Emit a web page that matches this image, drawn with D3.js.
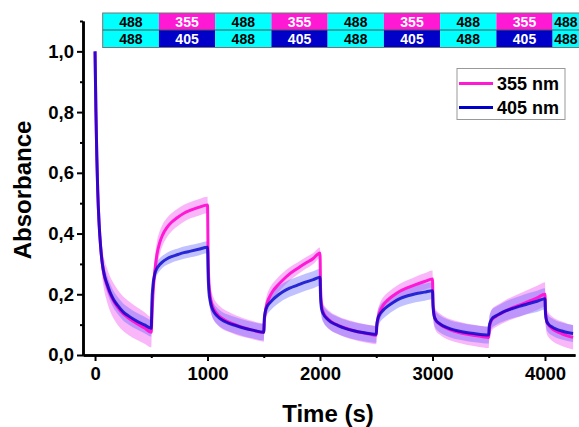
<!DOCTYPE html>
<html>
<head>
<meta charset="utf-8">
<script src="https://cdn.jsdelivr.net/npm/d3@7"></script>
<style>
  body { margin: 0; background: #fff; }
  svg { display: block; font-family: Arial, "Liberation Sans", sans-serif; }
</style>
</head>
<body>
<svg id="chart" width="579" height="427"></svg>
<script>
// time points (s), shared by both wavelengths
const time = [
  0, 8, 16, 24, 35, 50, 65, 85, 105, 130, 165, 200, 250, 300, 370, 440, 500,
  505, 515, 530, 550, 575, 600, 640, 680, 730, 790, 850, 920, 1000,
  1005, 1012, 1025, 1040, 1060, 1090, 1130, 1180, 1250, 1320, 1400, 1500,
  1505, 1515, 1530, 1550, 1580, 1620, 1670, 1730, 1800, 1870, 1940, 2000,
  2005, 2015, 2030, 2060, 2100, 2160, 2230, 2300, 2380, 2450, 2500,
  2505, 2515, 2530, 2560, 2600, 2650, 2710, 2780, 2850, 2930, 3000,
  3005, 3015, 3030, 3060, 3100, 3160, 3230, 3300, 3380, 3450, 3500,
  3505, 3515, 3530, 3560, 3600, 3650, 3710, 3780, 3850, 3930, 4000,
  4005, 4015, 4030, 4060, 4100, 4150, 4200, 4250
]

// 355 nm mean absorbance and std
const abs355 = [
  1.0, 0.80, 0.65, 0.54, 0.44, 0.355, 0.30, 0.258, 0.232, 0.205, 0.178, 0.158, 0.136, 0.121, 0.104, 0.089, 0.075,
  0.12, 0.20, 0.27, 0.33, 0.37, 0.395, 0.42, 0.437, 0.452, 0.467, 0.477, 0.486, 0.494,
  0.34, 0.24, 0.19, 0.165, 0.148, 0.133, 0.12, 0.11, 0.099, 0.09, 0.082, 0.074,
  0.11, 0.145, 0.17, 0.19, 0.21, 0.228, 0.247, 0.267, 0.285, 0.302, 0.318, 0.336,
  0.22, 0.16, 0.14, 0.123, 0.11, 0.098, 0.088, 0.08, 0.073, 0.068, 0.065,
  0.095, 0.12, 0.14, 0.163, 0.18, 0.195, 0.21, 0.222, 0.232, 0.242, 0.25,
  0.17, 0.13, 0.115, 0.103, 0.093, 0.083, 0.075, 0.069, 0.064, 0.06, 0.058,
  0.085, 0.105, 0.117, 0.126, 0.135, 0.145, 0.155, 0.165, 0.176, 0.188, 0.20,
  0.14, 0.112, 0.10, 0.088, 0.078, 0.07, 0.063, 0.058
]
const sd355 = [
  0, 0.01, 0.02, 0.03, 0.035, 0.042, 0.048, 0.052, 0.055, 0.057, 0.058, 0.058, 0.057, 0.056, 0.054, 0.052, 0.05,
  0.04, 0.045, 0.045, 0.042, 0.038, 0.035, 0.032, 0.03, 0.029, 0.028, 0.027, 0.027, 0.027,
  0.04, 0.04, 0.04, 0.038, 0.036, 0.035, 0.034, 0.033, 0.032, 0.031, 0.03, 0.03,
  0.03, 0.03, 0.03, 0.028, 0.026, 0.025, 0.024, 0.022, 0.02, 0.019, 0.018, 0.018,
  0.03, 0.03, 0.03, 0.03, 0.03, 0.03, 0.03, 0.03, 0.03, 0.03, 0.03,
  0.03, 0.03, 0.028, 0.026, 0.025, 0.025, 0.025, 0.025, 0.026, 0.027, 0.028,
  0.035, 0.035, 0.035, 0.035, 0.035, 0.035, 0.035, 0.035, 0.035, 0.035, 0.035,
  0.035, 0.035, 0.035, 0.035, 0.035, 0.036, 0.037, 0.038, 0.039, 0.04, 0.04,
  0.04, 0.04, 0.04, 0.04, 0.04, 0.04, 0.04, 0.04
]

// 405 nm mean absorbance and std
const abs405 = [
  1.0, 0.80, 0.65, 0.54, 0.44, 0.355, 0.30, 0.26, 0.236, 0.21, 0.183, 0.164, 0.142, 0.128, 0.112, 0.099, 0.088,
  0.17, 0.23, 0.265, 0.285, 0.298, 0.307, 0.317, 0.324, 0.33, 0.337, 0.342, 0.348, 0.355,
  0.27, 0.21, 0.175, 0.155, 0.14, 0.127, 0.115, 0.106, 0.097, 0.089, 0.082, 0.075,
  0.12, 0.145, 0.16, 0.17, 0.182, 0.195, 0.208, 0.22, 0.23, 0.24, 0.248, 0.256,
  0.19, 0.15, 0.135, 0.12, 0.108, 0.097, 0.087, 0.08, 0.074, 0.07, 0.068,
  0.10, 0.12, 0.133, 0.147, 0.16, 0.173, 0.186, 0.195, 0.202, 0.207, 0.212,
  0.16, 0.128, 0.115, 0.104, 0.095, 0.086, 0.079, 0.074, 0.07, 0.067, 0.066,
  0.095, 0.11, 0.12, 0.128, 0.136, 0.145, 0.153, 0.161, 0.169, 0.177, 0.185,
  0.135, 0.112, 0.102, 0.093, 0.085, 0.079, 0.074, 0.071
]
const sd405 = [
  0, 0.008, 0.015, 0.02, 0.024, 0.027, 0.028, 0.028, 0.028, 0.028, 0.028, 0.028, 0.028, 0.028, 0.027, 0.027, 0.027,
  0.025, 0.025, 0.024, 0.022, 0.021, 0.02, 0.02, 0.02, 0.02, 0.02, 0.02, 0.02, 0.02,
  0.027, 0.027, 0.027, 0.027, 0.027, 0.027, 0.027, 0.027, 0.027, 0.027, 0.027, 0.027,
  0.027, 0.027, 0.027, 0.027, 0.027, 0.028, 0.028, 0.028, 0.028, 0.028, 0.028, 0.028,
  0.028, 0.028, 0.028, 0.028, 0.028, 0.028, 0.028, 0.028, 0.028, 0.028, 0.028,
  0.028, 0.028, 0.028, 0.028, 0.028, 0.028, 0.028, 0.028, 0.028, 0.028, 0.028,
  0.028, 0.028, 0.028, 0.028, 0.028, 0.028, 0.028, 0.028, 0.028, 0.028, 0.028,
  0.03, 0.03, 0.03, 0.03, 0.03, 0.031, 0.032, 0.033, 0.034, 0.035, 0.035,
  0.028, 0.028, 0.028, 0.028, 0.028, 0.028, 0.028, 0.028
]

// illumination sequence strip
const stripTop = ["488", "355", "488", "355", "488", "355", "488", "355", "488"]
const stripBottom = ["488", "405", "488", "405", "488", "405", "488", "405", "488"]
const stripStart = 68      // s
const stripStep = 500      // s per cell

const xTicks = [0, 1000, 2000, 3000, 4000]
const xMinor = [500, 1500, 2500, 3500]
const yTicks = [0, 0.2, 0.4, 0.6, 0.8, 1.0]
const yMinor = [0.1, 0.3, 0.5, 0.7, 0.9, 1.1]

const colors = {
  "355": "#ff19d4",
  "405": "#0000c8",
  "488": "#00ffff",
  band355: "#f040f0",
  band405: "#6464ff"
}

const W = 579, H = 427
const svg = d3.select("#chart")

let x = d3.scaleLinear().domain([-107, 4267]).range([83, 575])
let y = d3.scaleLinear().domain([0, 1.1]).range([355, 21])

let rows355 = time.map((t, i) => ({t: t, m: abs355[i], s: sd355[i]}))
let rows405 = time.map((t, i) => ({t: t, m: abs405[i], s: sd405[i]}))

let area = d3.area()
  .x(d => x(d.t))
  .y0(d => y(d.m - d.s))
  .y1(d => y(d.m + d.s))
  .curve(d3.curveMonotoneX)

let line = d3.line()
  .x(d => x(d.t))
  .y(d => y(d.m))
  .curve(d3.curveMonotoneX)

// std bands
svg.append("path").datum(rows355)
  .attr("d", area).attr("fill", colors.band355).attr("fill-opacity", 0.38)
svg.append("path").datum(rows405)
  .attr("d", area).attr("fill", colors.band405).attr("fill-opacity", 0.4)

// mean lines
svg.append("path").datum(rows355)
  .attr("d", line).attr("fill", "none")
  .attr("stroke", colors["355"]).attr("stroke-width", 3)
svg.append("path").datum(rows405)
  .attr("d", line).attr("fill", "none")
  .attr("stroke", colors["405"]).attr("stroke-width", 3).attr("stroke-opacity", 0.8)

// axes
let fmtComma = v => d3.format(".1f")(v).replace(".", ",")

let yAxis = svg.append("g").attr("transform", "translate(83,0)")
  .call(d3.axisLeft(y).tickValues(yTicks).tickFormat(fmtComma).tickSize(6).tickSizeOuter(0).tickPadding(3))
svg.append("g").attr("transform", "translate(83,0)")
  .call(d3.axisLeft(y).tickValues(yMinor).tickFormat("").tickSize(3).tickSizeOuter(0))

let xAxis = svg.append("g").attr("transform", "translate(0,355)")
  .call(d3.axisBottom(x).tickValues(xTicks).tickFormat(d3.format("d")).tickSize(6).tickSizeOuter(0).tickPadding(6))
svg.append("g").attr("transform", "translate(0,355)")
  .call(d3.axisBottom(x).tickValues(xMinor).tickFormat("").tickSize(3).tickSizeOuter(0))

svg.selectAll(".domain").attr("stroke", "#000").attr("stroke-width", 2.5)
svg.selectAll(".tick line").attr("stroke", "#000").attr("stroke-width", 2)
svg.selectAll(".tick text")
  .attr("font-family", "Arial, 'Liberation Sans', sans-serif")
  .attr("font-size", 18.5).attr("font-weight", "bold").attr("fill", "#000")

svg.append("text")
  .attr("transform", "translate(31,190) rotate(-90)")
  .attr("text-anchor", "middle")
  .attr("font-size", 24).attr("font-weight", "bold")
  .text("Absorbance")

svg.append("text")
  .attr("x", 328).attr("y", 422)
  .attr("text-anchor", "middle")
  .attr("font-size", 24).attr("font-weight", "bold")
  .text("Time (s)")

// illumination strip
let strip = svg.append("g")
let stripRows = [
  {labels: stripTop, y0: 13, y1: 30},
  {labels: stripBottom, y0: 30, y1: 47.5}
]
stripRows.forEach(r => {
  r.labels.forEach((lab, i) => {
    let a = x(stripStart + i * stripStep)
    let b = Math.min(x(stripStart + (i + 1) * stripStep), W)
    strip.append("rect")
      .attr("x", a).attr("y", r.y0)
      .attr("width", b - a).attr("height", r.y1 - r.y0)
      .attr("fill", colors[lab])
    strip.append("text")
      .attr("x", (a + b) / 2).attr("y", (r.y0 + r.y1) / 2 + 5)
      .attr("text-anchor", "middle")
      .attr("font-size", 14).attr("font-weight", "bold")
      .attr("fill", lab === "488" ? "#000" : "#fff")
      .text(lab)
  })
})
strip.append("rect")
  .attr("x", x(stripStart)).attr("y", 13)
  .attr("width", W - x(stripStart) + 2).attr("height", 34.5)
  .attr("fill", "none").attr("stroke", "#777").attr("stroke-width", 1)
strip.append("line")
  .attr("x1", x(stripStart)).attr("x2", W)
  .attr("y1", 30).attr("y2", 30)
  .attr("stroke", "#555").attr("stroke-width", 1)

// legend
let legend = svg.append("g")
legend.append("rect")
  .attr("x", 457).attr("y", 68.5).attr("width", 108).attr("height", 51)
  .attr("fill", "#fff").attr("stroke", "#999").attr("stroke-width", 1)
let legendItems = [
  {key: "355", label: "355 nm", y: 83.5},
  {key: "405", label: "405 nm", y: 107.5}
]
legendItems.forEach(d => {
  legend.append("line")
    .attr("x1", 459).attr("x2", 493).attr("y1", d.y).attr("y2", d.y)
    .attr("stroke", colors[d.key]).attr("stroke-width", 3)
  legend.append("text")
    .attr("x", 497).attr("y", d.y + 6.5)
    .attr("font-size", 18).attr("font-weight", "bold")
    .text(d.label)
})
</script>
</body>
</html>
